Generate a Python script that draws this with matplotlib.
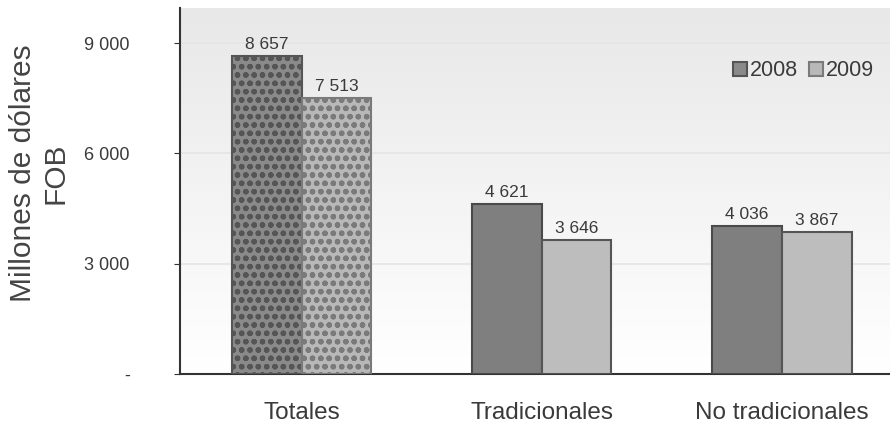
import matplotlib
matplotlib.use("Agg")
import matplotlib.pyplot as plt
import numpy as np

plt.rcParams['font.family'] = ['Liberation Sans', 'DejaVu Sans']
plt.rcParams['hatch.linewidth'] = 1.6

categories = ["Totales", "Tradicionales", "No tradicionales"]
years = ["2008", "2009"]
values_2008 = [8657, 4621, 4036]
values_2009 = [7513, 3646, 3867]
yticks = [0, 3000, 6000, 9000]
ytick_labels = ["-", "3 000", "6 000", "9 000"]

def fmt(v):
    return f"{v:,}".replace(",", " ")

fig = plt.figure(figsize=(8.9, 4.3), dpi=100)
ax = fig.add_axes([0.202, 0.130, 0.798, 0.851])

# gradient background
grad = np.linspace(0, 1, 256).reshape(-1, 1)
ax.imshow(grad, extent=[0, 1, 0, 1], transform=ax.transAxes, aspect='auto',
          cmap=matplotlib.colors.LinearSegmentedColormap.from_list("g", ["#ffffff", "#e8e8e8"]),
          origin='lower', zorder=0)

x = np.arange(len(categories))
w = 0.29
c08, c09 = "#7f7f7f", "#bdbdbd"
e08, e09 = "#4a4a4a", "#555555"

b1 = ax.bar(x - w/2, values_2008, w, color=c08, edgecolor=e08, linewidth=1.5, zorder=3, label=years[0])
b2 = ax.bar(x + w/2, values_2009, w, color=c09, edgecolor=e09, linewidth=1.5, zorder=3, label=years[1])
# dotted pattern on totals
b1[0].set_hatch('oo')
b1[0].set_edgecolor("#555555")
b1[0].set_facecolor("#8a8a8a")
b2[0].set_hatch('oo')
b2[0].set_edgecolor("#7a7a7a")
b2[0].set_facecolor("#b8b8b8")

for bars, vals in ((b1, values_2008), (b2, values_2009)):
    for r, v in zip(bars, vals):
        ax.text(r.get_x() + r.get_width()/2, v + 110, fmt(v), ha='center', va='bottom',
                fontsize=12.5, color="#3a3a3a", zorder=5)

ax.set_ylim(0, 9950)
ax.set_xlim(-0.508, 2.45)
ax.set_yticks(yticks)
ax.set_yticklabels(ytick_labels, fontsize=13, color="#3a3a3a")
ax.tick_params(axis='y', length=4, color="#333333", pad=32)
ax.set_xticks(x)
ax.set_xticklabels(categories, fontsize=17.5, color="#3a3a3a")
ax.tick_params(axis='x', length=0, pad=20)
ax.yaxis.grid(True, color="#e4e4e4", linewidth=1.2, zorder=1)
ax.set_axisbelow(True)
for s in ['top', 'right']:
    ax.spines[s].set_visible(False)
ax.spines['left'].set_color("#333333")
ax.spines['left'].set_linewidth(1.5)
ax.spines['bottom'].set_color("#333333")
ax.spines['bottom'].set_linewidth(1.5)

fig.text(23/890, 1 - 173/430, "Millones de dólares", rotation=90, ha='center', va='center',
         fontsize=21.5, color="#444444")
fig.text(55/890, 1 - 173/430, "FOB", rotation=90, ha='center', va='center',
         fontsize=21.5, color="#444444")

leg = ax.legend(loc='upper right', bbox_to_anchor=(1.005, 0.91), ncol=2, frameon=False,
                fontsize=15.5, handlelength=0.65, handleheight=0.65, handletextpad=0.15,
                columnspacing=0.5, labelcolor="#3a3a3a")
for h in leg.legend_handles:
    h.set_hatch(None)

fig.savefig("out.png", dpi=100)
